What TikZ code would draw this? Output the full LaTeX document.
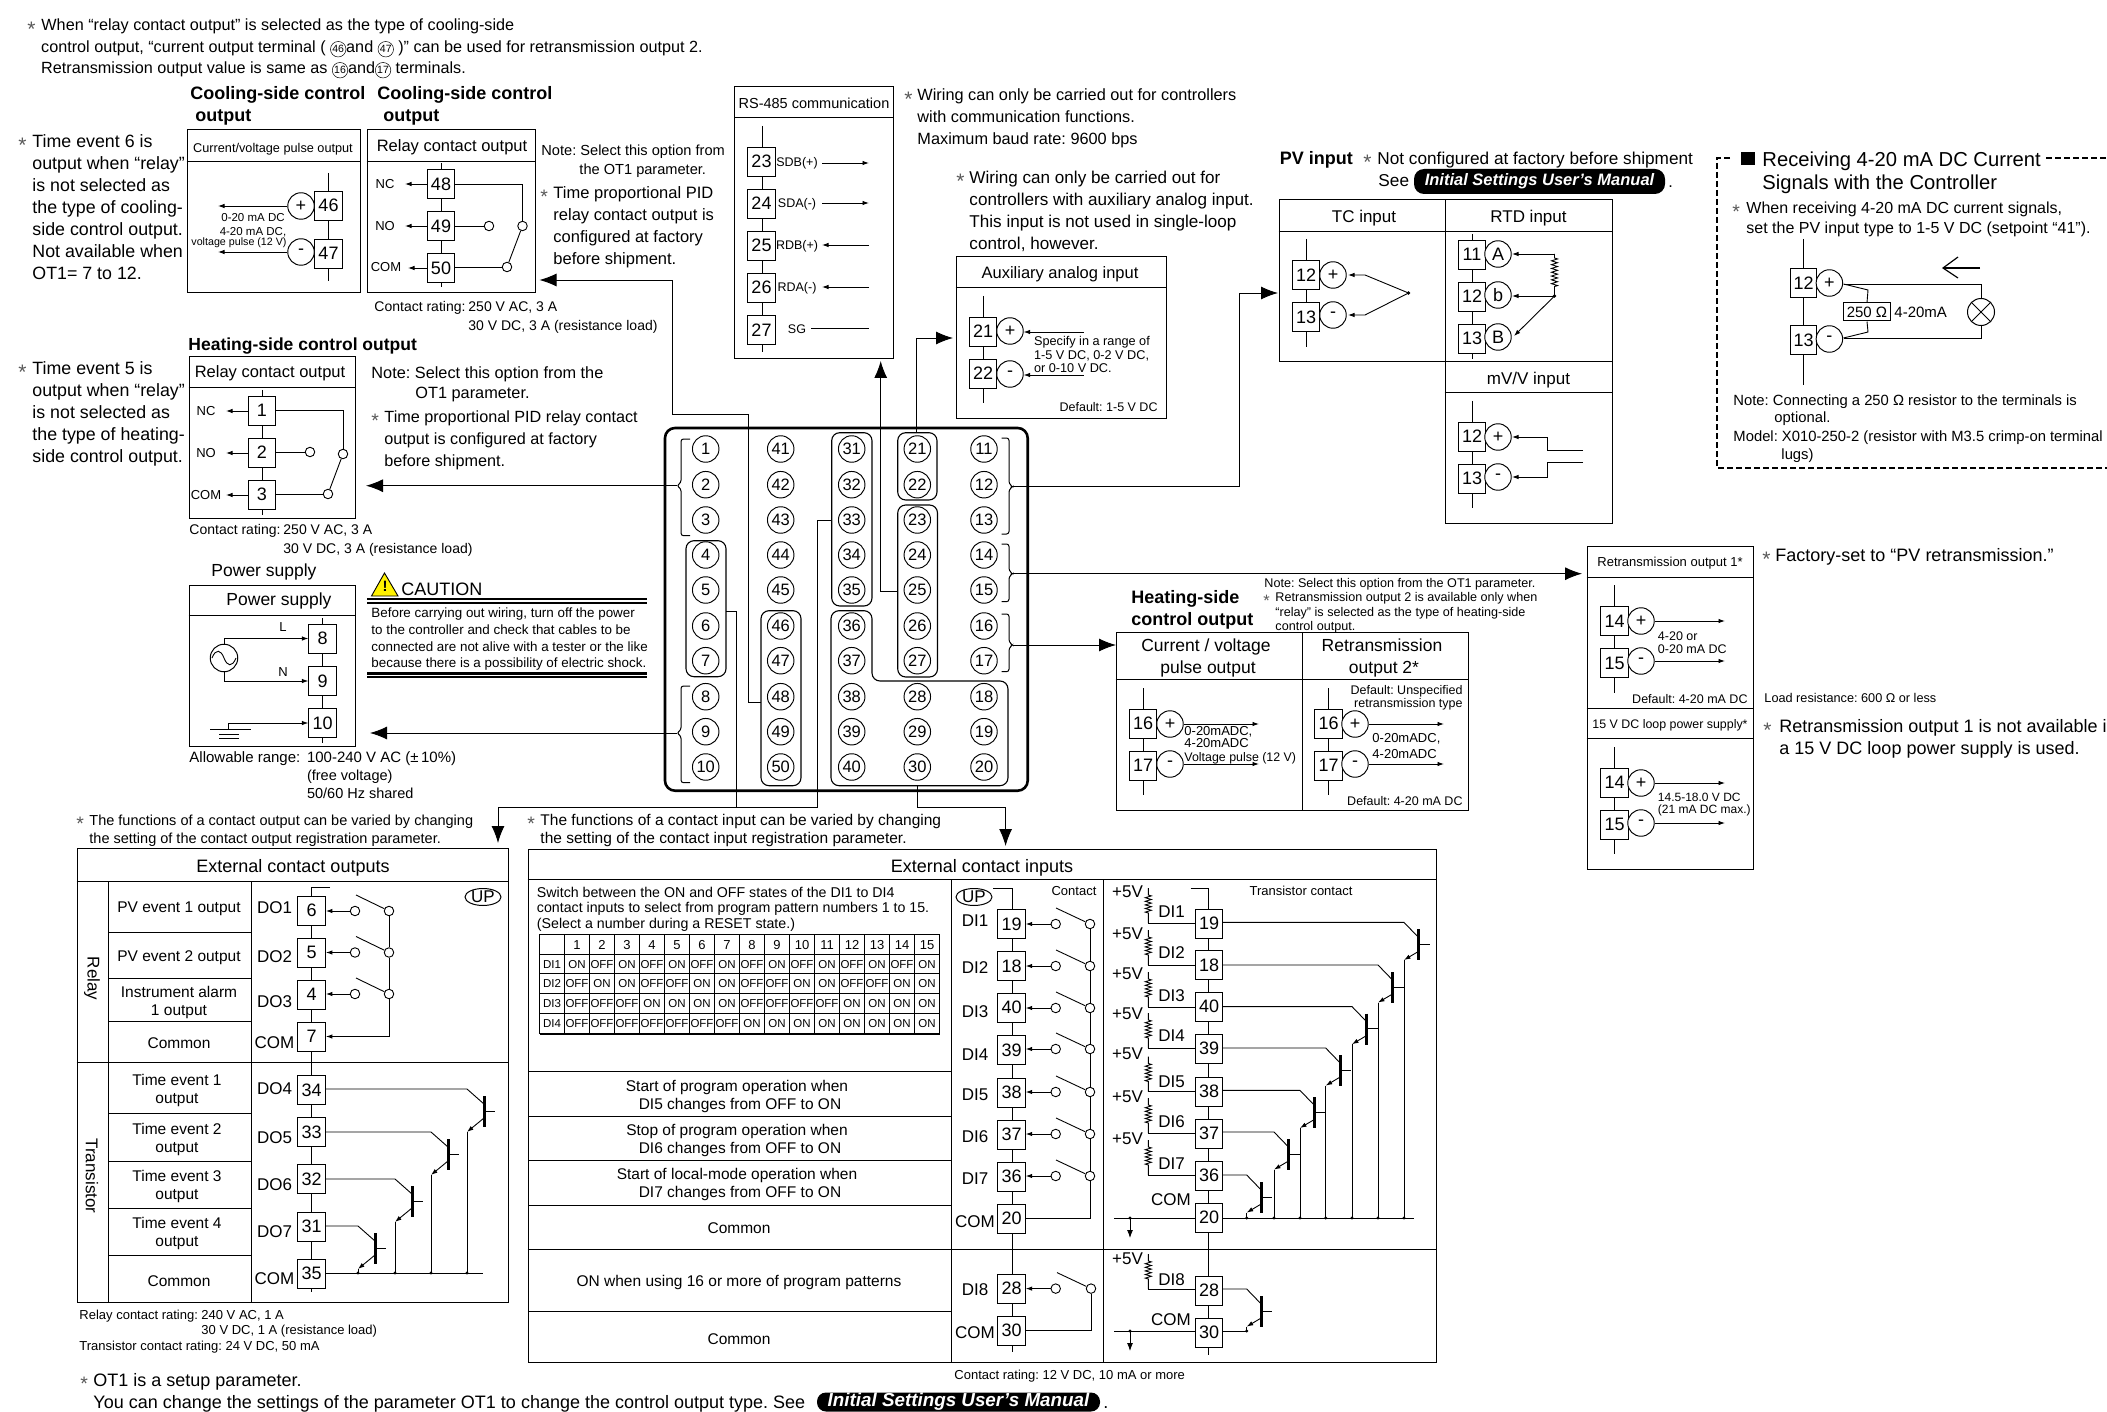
\documentclass[tikz,border=0pt]{standalone}
\usepackage{fontspec}
\setmainfont{Liberation Sans}
\usetikzlibrary{arrows.meta,decorations.pathmorphing,shapes.geometric}
\AtBeginDocument{\frenchspacing}
\newcount\txn
\newcommand\fs[1]{\fontsize{#1}{#1}\selectfont}
\newcommand\TL[4]{\global\advance\txn by 1 \node[anchor=base west,inner sep=0pt,font=\fs{#3}] (x\the\txn) at ({#1},{(#2)+.36*(#3)}) {#4};}
\newcommand\TC[4]{\global\advance\txn by 1 \node[anchor=base,inner sep=0pt,font=\fs{#3}] (x\the\txn) at ({#1},{(#2)+.36*(#3)}) {#4};}
\newcommand\TR[4]{\global\advance\txn by 1 \node[anchor=base east,inner sep=0pt,font=\fs{#3}] (x\the\txn) at ({#1},{(#2)+.36*(#3)}) {#4};}
\newcommand\ST[3]{\global\advance\txn by 1 \pgfmathsetmacro\stz{(#3)*1.5}\node[anchor=base west,inner sep=0pt,text=black!65,font=\fs{\stz}] (x\the\txn) at ({(#1)-1},{(#2)+.55*\stz}) {*};}
\newcommand\BOX[5]{\node[boxn,minimum width={(#4)-(#2)},minimum height={(#5)-(#3)}] (#1) at ({((#2)+(#4))/2},{((#3)+(#5))/2}) {};}
\newcommand\T[4]{\node[term] (#1) at ({#2},{#3}) {#4};}
\newcommand\CI[4]{\node[cir] (#1) at ({#2},{#3}) {#4};}
\newcommand\cn[1]{\tikz[baseline=(cx.base)]\node[circle,draw,line width=.5pt,inner sep=0pt,minimum size=15.5pt,font=\fs{10.5}] (cx) {#1};}
\newcommand\TRN[6]{%
 \coordinate (K) at ({(#2)-(#5)},{#3});
 \coordinate (E) at ({(#2)-(#5)},{(#3)+(#6)});
 \coordinate (C) at ({(#2)-(#5)},{#4});
 \draw (#1.east |- K) -- (K) -- ({#2},{(#3)+15});
 \draw[line width=3pt] ({#2},{(#3)+7}) -- ({#2},{(#3)+38});
 \draw ({#2},{(#3)+22}) -- ++(11,0);
 \draw[sa] ({#2},{(#3)+29}) -- (E);
 \draw (E) -- (C);
 \fill (C) circle (1.6);
}
\newcommand\RES[2]{%
 \draw[decoration={zigzag,amplitude=3pt,segment length=3.6pt}] ({#1},{(#2)-35}) -- ({#1},{(#2)-28}) decorate {-- ({#1},{(#2)-9})} -- ({#1},{#2});
}
\tikzset{
 boxn/.style={draw,line width=1pt,inner sep=0pt},
 term/.style={draw,line width=.95pt,fill=white,inner sep=0pt,minimum width=27.5pt,minimum height=29pt,font=\fs{18}},
 cir/.style={draw,circle,line width=.95pt,fill=white,inner sep=0pt,minimum size=26.5pt,font=\fs{18}},
 bc/.style={draw,circle,line width=.95pt,inner sep=0pt,minimum size=26.5pt,font=\fs{16.5}},
 oc/.style={draw,circle,line width=.9pt,fill=white,inner sep=0pt,minimum size=9.5pt},
 grp/.style={rounded corners=8pt,line width=1.1pt},
 sa/.style={-{Latex[length=6.5pt,width=4.5pt]}},
 ba/.style={-{Latex[length=17pt,width=13pt]}},
 pill/.style={fill=black,text=white,rounded corners=10pt,inner sep=0pt},
 every path/.append style={line width=.9pt}
}
\begin{document}
\begin{tikzpicture}[x=1pt,y=-1pt,line width=.9pt]
\useasboundingbox (0,0) rectangle (2107,1412);
% ---------- top note
\ST{28}{25}{14}
\TL{41}{25}{16.2}{When “relay contact output” is selected as the type of cooling-side}
\TL{41}{47}{16.2}{control output, “current output terminal ( \cn{46}and \cn{47} )” can be used for retransmission output 2.}
\TL{41}{68}{16.2}{Retransmission output value is same as \cn{16}and\cn{17} terminals.}
% ---------- cooling current
\TL{190}{93}{18}{\bfseries Cooling-side control}
\TL{195}{115}{18}{\bfseries output}
\TL{377}{93}{18}{\bfseries Cooling-side control}
\TL{383}{115}{18}{\bfseries output}
\BOX{cc}{187}{130}{360}{293}
\draw (cc.west |- 0,161) -- (cc.east |- 0,161);
\TC{273}{148}{12.7}{Current/voltage pulse output}
\draw (328,173) -- (328,281);
\T{t46}{328.5}{205.5}{46}
\T{t47}{328.5}{253.5}{47}
\CI{c46}{301}{206}{+}
\CI{c47}{301}{252}{-}
\coordinate (e46) at (218,206); \coordinate (e47) at (218,252);
\draw[sa] (c46) -- (e46);
\draw[sa] (c47) -- (e47);
\TC{253}{217}{11.5}{0-20 mA DC}
\TC{253}{231}{11.5}{4-20 mA DC,}
\TC{239}{242}{10.7}{voltage pulse (12 V)}
% cooling relay
\BOX{cr}{367}{130}{535}{293}
\draw (cr.west |- 0,161) -- (cr.east |- 0,161);
\TC{452}{146}{16.5}{Relay contact output}
\draw (441,163) -- (441,287);
\T{t48}{441}{184}{48}
\T{t49}{441}{226}{49}
\T{t50}{441}{268}{50}
\TC{385}{184}{13}{NC} \TC{385}{226}{13}{NO} \TC{386}{267}{13}{COM}
\coordinate (n48) at (405,184); \coordinate (n49) at (405,226); \coordinate (n50) at (408,268);
\draw[sa] (t48) -- (n48); \draw[sa] (t49) -- (n49); \draw[sa] (t50) -- (n50);
\node[oc] (s1) at (522.5,226) {}; \node[oc] (s2) at (489,226) {}; \node[oc] (s3) at (507,267) {};
\draw (t48.east) -| (s1.north);
\draw (t49.east) -- (s2.west);
\draw (t50.east |- s3) -- (s3.west);
\draw (s3) -- (s1);
\TL{541}{150}{14.6}{Note: Select this option from}
\TL{579}{169}{14.6}{the OT1 parameter.}
\ST{541}{193}{13}
\TL{553}{193}{16.5}{Time proportional PID}
\TL{553}{215}{16.5}{relay contact output is}
\TL{553}{237}{16.5}{configured at factory}
\TL{553}{259}{16.5}{before shipment.}
\TL{374}{306}{14}{Contact rating:}
\TL{468}{306}{14}{250 V AC, 3 A}
\TL{468}{325}{14}{30 V DC, 3 A (resistance load)}
% left notes
\ST{19}{141}{14}
\TL{32}{141}{17.8}{Time event 6 is}
\TL{32}{163}{17.8}{output when “relay”}
\TL{32}{185}{17.8}{is not selected as}
\TL{32}{207}{17.8}{the type of cooling-}
\TL{32}{229}{17.8}{side control output.}
\TL{32}{251}{17.8}{Not available when}
\TL{32}{273}{17.8}{OT1= 7 to 12.}
\ST{19}{368}{14}
\TL{32}{368}{17.8}{Time event 5 is}
\TL{32}{390}{17.8}{output when “relay”}
\TL{32}{412}{17.8}{is not selected as}
\TL{32}{434}{17.8}{the type of heating-}
\TL{32}{456}{17.8}{side control output.}
% ---------- heating relay
\TL{188}{344}{17.5}{\bfseries Heating-side control output}
\BOX{hr}{189}{357}{355}{518}
\draw (hr.west |- 0,387) -- (hr.east |- 0,387);
\TC{270}{372}{16.5}{Relay contact output}
\draw (262,390) -- (262,515);
\T{t1}{262}{410.5}{1}
\T{t2}{262}{452.5}{2}
\T{t3}{262}{494.5}{3}
\TC{206}{411}{13}{NC} \TC{206}{453}{13}{NO} \TC{206}{495}{13}{COM}
\coordinate (n1) at (226,411); \coordinate (n2) at (226,453); \coordinate (n3) at (226,495);
\draw[sa] (t1.west |- n1) -- (n1); \draw[sa] (t2.west |- n2) -- (n2); \draw[sa] (t3.west |- n3) -- (n3);
\node[oc] (h1) at (343,454) {}; \node[oc] (h2) at (310,452) {}; \node[oc] (h3) at (328,494) {};
\draw (t1.east) -| (h1.north);
\draw (t2.east |- h2) -- (h2.west);
\draw (t3.east |- h3) -- (h3.west);
\draw (h3) -- (h1);
\TL{371}{373}{16.3}{Note: Select this option from the}
\TL{415}{393}{16.3}{OT1 parameter.}
\ST{372}{417}{13}
\TL{384}{417}{16.2}{Time proportional PID relay contact}
\TL{384}{439}{16.2}{output is configured at factory}
\TL{384}{461}{16.2}{before shipment.}
\TL{189}{529}{14}{Contact rating:}
\TL{283}{529}{14}{250 V AC, 3 A}
\TL{283}{548}{14}{30 V DC, 3 A (resistance load)}
% ---------- power supply
\TC{264}{570}{17.5}{Power supply}
\BOX{ps}{189}{585}{355}{746}
\draw (ps.west |- 0,615) -- (ps.east |- 0,615);
\TC{279}{599}{17.5}{Power supply}
\draw (322.6,618) -- (322.6,743);
\T{t8}{322.6}{638.5}{8}
\T{t9}{322.6}{681}{9}
\T{t10}{322.6}{723}{10}
\node[draw,circle,line width=1pt,inner sep=0pt,minimum size=27.5pt] (ac) at (224,658) {};
\draw (212,658) .. controls (216,648) and (221,650) .. (224,658) .. controls (227,666) and (232,668) .. (236,658);
\draw[sa] (ac.north) |- (t8.west);
\draw[sa] (ac.south) |- (t9.west);
\TC{283}{627}{13}{L} \TC{283}{672}{13}{N}
\coordinate (g0) at (228.5,729);
\draw[sa] (g0) |- (t10.west);
\draw (210,729) -- (251,729);
\draw (219,734) -- (239,734);
\draw (219,738) -- (239,738);
\TL{189}{757}{15}{Allowable range:}
\TL{306.6}{757}{15}{100-240 V AC (±\,10\%)}
\TL{306.6}{775}{14.5}{(free voltage)}
\TL{306.6}{793}{14.5}{50/60 Hz shared}
% caution
\draw[fill=yellow,line width=.9pt] (384.5,573) -- (398,596) -- (371.5,596) -- cycle;
\TC{385}{586}{15}{\bfseries !}
\TL{401}{589}{18}{CAUTION}
\draw[line width=2.2pt] (367,599) -- (647,599);
\draw[line width=1.2pt] (367,603) -- (647,603);
\draw[line width=2.2pt] (367,673.5) -- (647,673.5);
\draw[line width=1.2pt] (367,677) -- (647,677);
\TL{371}{613}{13.4}{Before carrying out wiring, turn off the power}
\TL{371}{630}{13.4}{to the controller and check that cables to be}
\TL{371}{647}{13.4}{connected are not alive with a tester or the like}
\TL{371}{663}{13.4}{because there is a possibility of electric shock.}
% ---------- board
\draw[line width=2.6pt,rounded corners=10pt] (665,428) rectangle (1027.7,790.7);
\foreach \t/\x/\y in {1/705.7/449,2/705.7/484.7,3/705.7/520,4/705.7/555,5/705.7/590,6/705.7/626,7/705.7/660.7,8/705.7/696.7,9/705.7/731.7,10/705.7/767,
41/780.7/449,42/780.7/484.7,43/780.7/520,44/780.7/555,45/780.7/590,46/780.7/626,47/780.7/660.7,48/780.7/696.7,49/780.7/731.7,50/780.7/767,
31/851.7/449,32/851.7/484.7,33/851.7/520,34/851.7/555,35/851.7/590,36/851.7/626,37/851.7/660.7,38/851.7/696.7,39/851.7/731.7,40/851.7/767,
21/917.3/449,22/917.3/484.7,23/917.3/520,24/917.3/555,25/917.3/590,26/917.3/626,27/917.3/660.7,28/917.3/696.7,29/917.3/731.7,30/917.3/767,
11/984/449,12/984/484.7,13/984/520,14/984/555,15/984/590,16/984/626,17/984/660.7,18/984/696.7,19/984/731.7,20/984/767}
 {\node[bc] (b\t) at (\x,\y) {\t};}
\draw[grp] (686,540.7) rectangle (726,676.7);
\draw[grp] (831.7,432.7) rectangle (872,606);
\draw[grp] (897.7,432.7) rectangle (937,500);
\draw[grp] (897.7,505) rectangle (937.5,677);
\draw[grp] (761,610.7) rectangle (801,785.7);
\draw[grp] (831,610.7) -- (872,610.7) -- (872,681) -- (1008,681) -- (1008,785.7) -- (831,785.7) -- cycle;
\coordinate (bl1) at (676.7,485.7); \coordinate (bl2) at (676.7,733);
\coordinate (br1) at (1012.7,486.7); \coordinate (br2) at (1012.7,573.7); \coordinate (br3) at (1012.7,645);
\draw[rounded corners=2.5pt,line width=1pt] (690,439) -- (681,439) -- (681,482.7) -- (bl1) -- (681,488.7) -- (681,535.7) -- (690,535.7);
\draw[rounded corners=2.5pt,line width=1pt] (690,686) -- (681,686) -- (681,730) -- (bl2) -- (681,736) -- (681,782.7) -- (690,782.7);
\draw[rounded corners=2.5pt,line width=1pt] (1001.7,438) -- (1009,438) -- (1009,483.7) -- (br1) -- (1009,489.7) -- (1009,534) -- (1001.7,534);
\draw[rounded corners=2.5pt,line width=1pt] (1001.7,544) -- (1009,544) -- (1009,570.7) -- (br2) -- (1009,576.7) -- (1009,601.7) -- (1001.7,601.7);
\draw[rounded corners=2.5pt,line width=1pt] (1001.7,614) -- (1009,614) -- (1009,642) -- (br3) -- (1009,648) -- (1009,671.7) -- (1001.7,671.7);
% connectors
\coordinate (a1) at (366,485.7); \draw[ba] (bl1) -- (a1);
\coordinate (a2) at (370,733); \draw[ba] (bl2) -- (a2);
\coordinate (a3a) at (761,702.7); \coordinate (a3b) at (748.3,414); \coordinate (a3c) at (672,414); \coordinate (a3d) at (539.5,280);
\draw[ba] (a3a) -| (a3b) -- (a3c) |- (a3d);
\coordinate (a4a) at (897.7,591); \coordinate (a4b) at (880.7,361);
\draw[ba] (a4a) -| (a4b);
\coordinate (a5a) at (916.3,432.7); \coordinate (a5b) at (953,338);
\draw[ba] (a5a) |- (a5b);
\coordinate (a6a) at (1239,293); \coordinate (a6b) at (1278,293);
\draw[ba] (br1) -| (a6a) -- (a6b);
\coordinate (a7) at (1582,573.7); \draw[ba] (br2) -- (a7);
\coordinate (a8) at (1116,645); \draw[ba] (br3) -- (a8);
\coordinate (a9a) at (726,611); \coordinate (a9b) at (736,807); \coordinate (a9c) at (817,807); \coordinate (a9d) at (817,520); \coordinate (a9e) at (831.7,520); \coordinate (a9f) at (498,807); \coordinate (a9g) at (498,843);
\draw (a9a) -| (a9b);
\draw (a9d) -- (a9e);
\draw[ba] (a9d) -- (a9c) -- (a9f) -- (a9g);
\coordinate (a10a) at (917.7,785.7); \coordinate (a10b) at (917.7,807); \coordinate (a10c) at (1005.6,807); \coordinate (a10d) at (1005.6,846);
\draw[ba] (a10a) -- (a10b) -- (a10c) -- (a10d);
% ---------- RS-485
\BOX{rs}{734.6}{87}{893.6}{359}
\draw (rs.west |- 0,117) -- (rs.east |- 0,117);
\TC{814}{103}{14.5}{RS-485 communication}
\draw (762,126) -- (762,352);
\T{t23}{761.5}{161.5}{23} \T{t24}{761.5}{203.5}{24} \T{t25}{761.5}{245.5}{25} \T{t26}{761.5}{287.5}{26} \T{t27}{761.5}{330}{27}
\TC{797}{162}{12.5}{SDB(+)} \TC{797}{203}{12.5}{SDA(-)} \TC{797}{245}{12.5}{RDB(+)} \TC{797}{287}{12.5}{RDA(-)} \TC{797}{329}{12.5}{SG}
\coordinate (p1) at (822,163); \coordinate (q1) at (869,163);
\coordinate (p2) at (822,203); \coordinate (q2) at (869,203);
\coordinate (p3) at (822,245); \coordinate (q3) at (869,245);
\coordinate (p4) at (822,287); \coordinate (q4) at (869,287);
\coordinate (p5) at (811,328); \coordinate (q5) at (869,328);
\draw[sa] (p1) -- (q1); \draw[sa] (p2) -- (q2); \draw[sa] (q3) -- (p3); \draw[sa] (q4) -- (p4); \draw (p5) -- (q5);
\ST{905}{95}{14}
\TL{917}{95}{16.3}{Wiring can only be carried out for controllers}
\TL{917}{117}{16.3}{with communication functions.}
\TL{917}{139}{16.3}{Maximum baud rate: 9600 bps}
\ST{957}{177}{14}
\TL{969}{177}{17.1}{Wiring can only be carried out for}
\TL{969}{199}{17.1}{controllers with auxiliary analog input.}
\TL{969}{221}{17.1}{This input is not used in single-loop}
\TL{969}{243}{17.1}{control, however.}
% aux
\BOX{ax}{956}{257}{1166}{418}
\draw (ax.west |- 0,287) -- (ax.east |- 0,287);
\TC{1060}{273}{16.5}{Auxiliary analog input}
\draw (983,296) -- (983,403);
\T{t21}{983}{331.5}{21} \T{t22}{983}{373.5}{22}
\CI{c21}{1010}{331}{+} \CI{c22}{1010}{374}{-}
\coordinate (f21) at (1083.6,332); \coordinate (f22) at (1083.6,375);
\coordinate (g21) at (1023.6,332); \coordinate (g22) at (1023.6,375);
\draw[sa] (f21) -- (g21); \draw[sa] (f22) -- (g22);
\TL{1033.6}{341}{12.7}{Specify in a range of}
\TL{1033.6}{355}{12.7}{1-5 V DC, 0-2 V DC,}
\TL{1033.6}{368}{12.7}{or 0-10 V DC.}
\TR{1158}{407}{12.5}{Default: 1-5 V DC}
% ---------- PV input
\TL{1279.5}{158}{18}{\bfseries PV input}
\ST{1364}{158}{14}
\TL{1377}{158}{17.2}{Not configured at factory before shipment}
\TL{1378}{180}{17.2}{See}
\node[pill,minimum width=251pt,minimum height=25pt,font=\fs{16.5}\bfseries\itshape] (pl1) at (1539.5,181.5) {Initial Settings User’s Manual};
\TL{1668}{182}{16.3}{.}
\BOX{pv}{1279}{200}{1612}{362}
\draw (pv.west |- 0,231) -- (pv.east |- 0,231);
\draw (1445,200) -- (1445,362);
\BOX{mv}{1445}{362}{1612}{523}
\draw (mv.west |- 0,392) -- (mv.east |- 0,392);
\TC{1364}{216}{17}{TC input} \TC{1528.5}{216}{17}{RTD input} \TC{1528.5}{378}{17}{mV/V input}
\draw (1306,239) -- (1306,347);
\T{a12}{1306}{275}{12} \T{a13}{1306}{317}{13}
\CI{ca12}{1333}{275}{+} \CI{ca13}{1333}{315}{-}
\coordinate (tc) at (1408.5,293); \coordinate (tc1) at (1365,275); \coordinate (tc2) at (1365,315);
\coordinate (tc1e) at (1348,275); \coordinate (tc2e) at (1348,315);
\draw[sa] (tc) -- (tc1) -- (tc1e);
\draw[sa] (tc) -- (tc2) -- (tc2e);
\fill (tc) circle (1.8);
\draw (1472,234) -- (1472,359);
\T{r11}{1472}{254.5}{11} \T{r12}{1472}{296.5}{12} \T{r13}{1472}{338.5}{13}
\CI{ra}{1498}{254}{A} \CI{rb}{1498}{295}{b} \CI{rc}{1498}{337}{B}
\coordinate (ra1) at (1554.5,254); \coordinate (ra2) at (1512,254);
\coordinate (rb1) at (1554.5,296); \coordinate (rb2) at (1512,296);
\coordinate (rc2) at (1514,336);
\draw[sa] (ra1) -- (ra2); \draw[sa] (rb1) -- (rb2); \draw[sa] (rb1) -- (rc2);
\draw[decoration={zigzag,amplitude=3pt,segment length=3.8pt}] (ra1) -- (1554.5,258) decorate {-- (1554.5,287)} -- (rb1);
\fill (rb1) circle (1.8);
\draw (1472,401) -- (1472,508);
\T{m12}{1472}{436.5}{12} \T{m13}{1472}{478.5}{13}
\CI{cm12}{1498}{437}{+} \CI{cm13}{1498}{477}{-}
\coordinate (m1) at (1583,450); \coordinate (m2) at (1583,462); \coordinate (m1e) at (1512,437); \coordinate (m2e) at (1512,477);
\draw[sa] (m1) -- (1547.4,450) -- (1547.4,437) -- (m1e);
\draw[sa] (m2) -- (1547.4,462) -- (1547.4,477) -- (m2e);
% ---------- dashed box
\draw[line width=2.4pt,dash pattern=on 6pt off 3pt] (1730,158) -- (1717,158) -- (1717,468) -- (2107,468);
\draw[line width=2.4pt,dash pattern=on 6pt off 3pt] (2046,158) -- (2107,158);
\fill (1741,152) rectangle (1755,165);
\TL{1762}{159}{20.2}{Receiving 4-20 mA DC Current}
\TL{1762}{182}{20.2}{Signals with the Controller}
\ST{1733}{208}{13}
\TL{1746}{208}{16}{When receiving 4-20 mA DC current signals,}
\TL{1746}{228}{16}{set the PV input type to 1-5 V DC (setpoint “41”).}
\draw (1803,239) -- (1803,385);
\node[term,minimum width=26pt] (d12) at (1803.5,283) {12};
\node[term,minimum width=26pt] (d13) at (1803.5,340) {13};
\CI{cd12}{1829.4}{283}{+} \CI{cd13}{1829.4}{339}{-}
\node[draw,circle,line width=1pt,inner sep=0pt,minimum size=27pt] (lamp) at (1981,312) {};
\draw (lamp.north east) -- (lamp.south west);
\draw (lamp.north west) -- (lamp.south east);
\coordinate (d1) at (1843.5,284); \coordinate (d2) at (1843.5,338); \coordinate (d3) at (1981,284); \coordinate (d4) at (1981,338);
\draw (d1) -- (d3) -- (lamp.north);
\draw (lamp.south) -- (d4) -- (d2);
\node[draw,line width=1pt,inner sep=0pt,minimum width=47.5pt,minimum height=18pt,font=\fs{15}] (r250) at (1867,312) {250 Ω};
\coordinate (r1) at (1868,290); \coordinate (r2) at (1868,332);
\draw (d1) -- (r1) -- (r250.north);
\draw (r250.south) -- (r2) -- (d2);
\TL{1894}{312}{15}{4-20mA}
\coordinate (ar1) at (1980,268); \coordinate (ar2) at (1943,268);
\draw[line width=1.2pt] (ar1) -- (ar2);
\draw[line width=1.2pt] (1958,257) -- (ar2) -- (1958,278);
\TL{1733}{400}{14.8}{Note: Connecting a 250 Ω resistor to the terminals is}
\TL{1774}{417}{14.8}{optional.}
\TL{1733}{436}{14.8}{Model: X010-250-2 (resistor with M3.5 crimp-on terminal}
\TL{1781}{454}{14.8}{lugs)}
% ---------- heating table
\TL{1131}{597}{18}{\bfseries Heating-side}
\TL{1131}{619}{18}{\bfseries control output}
\TL{1264}{583}{12.6}{Note: Select this option from the OT1 parameter.}
\ST{1264}{597}{11}
\TL{1275}{597}{12.6}{Retransmission output 2 is available only when}
\TL{1275}{612}{12.6}{“relay” is selected as the type of heating-side}
\TL{1275}{626}{12.6}{control output.}
\BOX{ht}{1116}{632}{1468}{810}
\draw (ht.west |- 0,679) -- (ht.east |- 0,679);
\draw (1302,632) -- (1302,810);
\TC{1206}{645}{17.5}{Current / voltage} \TC{1208}{667}{17.5}{pulse output}
\TC{1382}{645}{17.5}{Retransmission} \TC{1384}{667}{17.5}{output 2*}
\draw (1143,688) -- (1143,795);
\T{h16}{1143}{723.5}{16} \T{h17}{1143}{765.5}{17}
\CI{ch16}{1170}{724}{+} \CI{ch17}{1170}{764}{-}
\coordinate (he1) at (1259,724); \coordinate (he2) at (1259,764);
\draw[sa] (ch16) -- (he1); \draw[sa] (ch17) -- (he2);
\TL{1184}{731}{13}{0-20mADC,}
\TL{1184}{743}{13}{4-20mADC}
\TL{1184}{757}{12.4}{Voltage pulse (12 V)}
\draw (1328.5,688) -- (1328.5,795);
\T{h26}{1328.5}{723.5}{16} \T{h27}{1328.5}{765.5}{17}
\CI{ch26}{1355}{724}{+} \CI{ch27}{1355}{764}{-}
\coordinate (he3) at (1444,724); \coordinate (he4) at (1444,764);
\draw[sa] (ch26) -- (he3); \draw[sa] (ch27) -- (he4);
\TR{1463}{690}{12.5}{Default: Unspecified}
\TR{1463}{703}{12.5}{retransmission type}
\TL{1372}{738}{13}{0-20mADC,}
\TL{1372}{754}{13}{4-20mADC}
\TR{1463}{801}{12.5}{Default: 4-20 mA DC}
% ---------- retransmission 1
\BOX{ro}{1587}{546}{1753}{869}
\draw (ro.west |- 0,577) -- (ro.east |- 0,577);
\draw (ro.west |- 0,708) -- (ro.east |- 0,708);
\draw (ro.west |- 0,738) -- (ro.east |- 0,738);
\TC{1670}{562}{13}{Retransmission output 1*}
\draw (1614.5,585) -- (1614.5,693);
\T{q14}{1614.5}{621}{14} \T{q15}{1614.5}{663}{15}
\CI{cq14}{1641}{621}{+} \CI{cq15}{1641}{661}{-}
\coordinate (qe1) at (1725,621); \coordinate (qe2) at (1725,661);
\draw[sa] (cq14) -- (qe1); \draw[sa] (cq15) -- (qe2);
\TL{1657.5}{636}{12.5}{4-20 or}
\TL{1657.5}{649}{12.5}{0-20 mA DC}
\TR{1748}{699}{12.5}{Default: 4-20 mA DC}
\TC{1670}{724}{12.4}{15 V DC loop power supply*}
\draw (1614.5,747) -- (1614.5,854);
\T{u14}{1614.5}{782.5}{14} \T{u15}{1614.5}{824.5}{15}
\CI{cu14}{1641}{783}{+} \CI{cu15}{1641}{823}{-}
\coordinate (ue1) at (1725,783); \coordinate (ue2) at (1725,823);
\draw[sa] (cu14) -- (ue1); \draw[sa] (cu15) -- (ue2);
\TL{1657.5}{797}{12}{14.5-18.0 V DC}
\TL{1657.5}{809}{12}{(21 mA DC max.)}
\ST{1763}{555}{14}
\TL{1775}{555}{18}{Factory-set to “PV retransmission.”}
\TL{1764}{698}{12.7}{Load resistance: 600 Ω or less}
\ST{1764}{726}{14}
\TL{1779}{726}{18}{Retransmission output 1 is not available i}
\TL{1779}{748}{18}{a 15 V DC loop power supply is used.}
% ---------- external contact outputs
\ST{77}{820}{13}
\TL{89}{820}{14.5}{The functions of a contact output can be varied by changing}
\TL{89}{838}{14.5}{the setting of the contact output registration parameter.}
\BOX{eo}{77}{848.6}{508}{1302.5}
\draw (eo.west |- 0,881) -- (eo.east |- 0,881);
\draw (eo.west |- 0,1062.5) -- (eo.east |- 0,1062.5);
\draw (108,881) -- (108,1302.5);
\draw (251,881) -- (251,1302.5);
\foreach \y in {932.5,978.6,1021.4,1113.6,1161,1208,1255} {\draw (108,\y) -- (251,\y);}
\TC{293}{866}{18}{External contact outputs}
\node[rotate=-90,inner sep=0pt,font=\fs{17}] (rl1) at (92,978.6) {Relay};
\node[rotate=-90,inner sep=0pt,font=\fs{17}] (rl2) at (92,1176) {Transistor};
\TC{179}{907}{15.5}{PV event 1 output}
\TC{179}{956}{15.5}{PV event 2 output}
\TC{179}{992}{15.5}{Instrument alarm}
\TC{179}{1010}{15.5}{1 output}
\TC{179}{1043}{15.5}{Common}
\TC{177}{1080}{15.5}{Time event 1} \TC{177}{1098}{15.5}{output}
\TC{177}{1128.6}{15.5}{Time event 2} \TC{177}{1147}{15.5}{output}
\TC{177}{1176}{15.5}{Time event 3} \TC{177}{1194}{15.5}{output}
\TC{177}{1223}{15.5}{Time event 4} \TC{177}{1241}{15.5}{output}
\TC{179}{1281}{15.5}{Common}
\foreach \t/\y in {DO1/907,DO2/956,DO3/1001,COM/1042,DO4/1088.6,DO5/1137.5,DO6/1184.6,DO7/1231,COM/1278.6} {\TC{274.5}{\y}{17}{\t}}
\coordinate (st0) at (330,887.5); \coordinate (st1) at (311.7,887.5); \coordinate (st2) at (311.7,1292);
\draw (st0) -- (st1) -- (st2);
\foreach \n/\l/\y in {o6/6/910.5,o5/5/952.5,o4/4/994.5,o7/7/1036.5,o34/34/1090,o33/33/1132,o32/32/1179,o31/31/1226.5,o35/35/1273.5}
 {\node[term] (\n) at (311.7,\y) {\l};}
\foreach \n/\y in {o6/911,o5/952.5,o4/994}{
 \node[oc] (l\n) at (355,\y) {};
 \node[oc] (r\n) at (389,\y) {};
 \draw[sa] (l\n) -- (\n.east |- l\n);
 \draw (356,{\y-16}) -- (r\n);
}
\draw (ro6) -- (ro5); \draw (ro5) -- (ro4);
\draw[sa] (ro4) |- (o7.east);
\node[draw,ellipse,line width=1pt,inner sep=0pt,minimum width=36pt,minimum height=17pt,font=\fs{17}] (up1) at (483,897) {UP};
\coordinate (oc) at (483,1273);
\draw (o35.east |- oc) -- (oc);
\TRN{o34}{484}{1089}{1273}{17}{43}
\TRN{o33}{448}{1132}{1273}{17}{43}
\TRN{o32}{412}{1179}{1273}{17}{43}
\TRN{o31}{375}{1226}{1273}{17}{43}
\TL{79}{1315}{13}{Relay contact rating:}
\TL{201}{1315}{13}{240 V AC, 1 A}
\TL{201}{1330}{13}{30 V DC, 1 A (resistance load)}
\TL{79}{1346}{13}{Transistor contact rating: 24 V DC, 50 mA}
% ---------- external contact inputs
\ST{528}{820}{13}
\TL{540}{820}{15.5}{The functions of a contact input can be varied by changing}
\TL{540}{838}{15.5}{the setting of the contact input registration parameter.}
\BOX{ei}{528}{849}{1436}{1362.5}
\draw (ei.west |- 0,879) -- (ei.east |- 0,879);
\draw (ei.west |- 0,1249) -- (ei.east |- 0,1249);
\draw (951,879) -- (951,1362.5);
\draw (1103,879) -- (1103,1362.5);
\foreach \y in {1071.8,1116,1160,1205,1311.5} {\draw (528,\y) -- (951,\y);}
\TC{982}{866}{18}{External contact inputs}
\TL{536.5}{892}{14.2}{Switch between the ON and OFF states of the DI1 to DI4}
\TL{536.5}{907.5}{14.2}{contact inputs to select from program pattern numbers 1 to 15.}
\TL{536.5}{923}{14.2}{(Select a number during a RESET state.)}
% pattern table
\foreach \y in {934,954,973.6,993,1013} {\draw (539.5,\y) -- (939.5,\y);}
\draw[line width=1.6pt] (539.5,1034) -- (939.5,1034);
\foreach \i in {0,...,16} {\draw ({539.5+25*\i},934) -- ({539.5+25*\i},1034);}
\foreach \v [count=\i] in {1,2,...,15} {\TC{539.5+25*\i+12.5}{945}{13}{\v}}
\foreach \r/\y/\vals in {DI1/964/{ON,OFF,ON,OFF,ON,OFF,ON,OFF,ON,OFF,ON,OFF,ON,OFF,ON},
 DI2/983.5/{OFF,ON,ON,OFF,OFF,ON,ON,OFF,OFF,ON,ON,OFF,OFF,ON,ON},
 DI3/1003.5/{OFF,OFF,OFF,ON,ON,ON,ON,OFF,OFF,OFF,OFF,ON,ON,ON,ON},
 DI4/1023.5/{OFF,OFF,OFF,OFF,OFF,OFF,OFF,ON,ON,ON,ON,ON,ON,ON,ON}}
 {\TC{552}{\y}{11.5}{\r}
  \foreach \v [count=\i] in \vals {\TC{539.5+25*\i+12.5}{\y}{11.5}{\v}}}
\TC{737}{1086}{15.5}{Start of program operation when}
\TC{740}{1104}{15.5}{DI5 changes from OFF to ON}
\TC{737}{1130}{15.5}{Stop of program operation when}
\TC{740}{1148}{15.5}{DI6 changes from OFF to ON}
\TC{737}{1174}{15.5}{Start of local-mode operation when}
\TC{740}{1192}{15.5}{DI7 changes from OFF to ON}
\TC{739}{1228}{15.5}{Common}
\TC{739}{1281}{15.5}{ON when using 16 or more of program patterns}
\TC{739}{1339}{15.5}{Common}
% contact column
\node[draw,ellipse,line width=1pt,inner sep=0pt,minimum width=36pt,minimum height=17pt,font=\fs{17}] (up2) at (974,897) {UP};
\coordinate (cs0) at (993,888); \coordinate (cs1) at (1012,888); \coordinate (cs2) at (1012,1352);
\draw (cs0) -- (cs1) -- (cs2);
\TC{1074}{891}{13}{Contact}
\foreach \t/\y in {DI1/920.7,DI2/967,DI3/1011,DI4/1054,DI5/1094.6,DI6/1136.7,DI7/1178.5,COM/1221,DI8/1289.6,COM/1332} {\TC{975}{\y}{17}{\t}}
\foreach \l/\y in {19/924,18/966,40/1007.5,39/1050,38/1092.5,37/1134.5,36/1176.5,20/1218.5,28/1288.5,30/1330.5}
 {\node[term] (k\l) at (1011.5,\y) {\l};}
\foreach \l/\y in {19/924,18/966,40/1008,39/1049,38/1092,37/1134,36/1176}{
 \node[oc] (lk\l) at (1055.7,\y) {};
 \node[oc] (rk\l) at (1090,\y) {};
 \draw[sa] (lk\l) -- (k\l.east |- lk\l);
 \draw (1056,{\y-16}) -- (rk\l);
}
\foreach \a/\b in {19/18,18/40,40/39,39/38,38/37,37/36} {\draw (rk\a) -- (rk\b);}
\draw (rk36) |- (k20.east);
\node[oc] (lk28) at (1055.7,1288.6) {};
\node[oc] (rk28) at (1091,1288.6) {};
\draw[sa] (lk28) -- (k28.east |- lk28);
\draw (1057,1272.6) -- (rk28);
\draw (rk28) |- (k30.east);
\TL{954}{1375}{13}{Contact rating: 12 V DC, 10 mA or more}
% transistor column
\TC{1301}{891}{13}{Transistor contact}
\coordinate (ts0) at (1190.7,888); \coordinate (ts1) at (1208.7,888); \coordinate (ts2) at (1208.7,1355);
\draw (ts0) -- (ts1) -- (ts2);
\foreach \l/\y in {19/923.5,18/965,40/1006.5,39/1048.5,38/1091.5,37/1133.5,36/1175.5,20/1217.5,28/1290.5,30/1332.5}
 {\node[term,minimum width=27pt] (j\l) at (1209,\y) {\l};}
\foreach \y in {891.6,933.6,973,1013.6,1053,1096,1138,1258} {\TL{1111.7}{\y}{17}{+5V}}
\foreach \w/\l in {923/19,965/18,1007/40,1048/39,1091.5/38,1133/37,1175/36,1289/28} {
 \RES{1148.3}{\w}
 \draw (1148.3,\w) -- (j\l.west |- 0,\w);
}
\foreach \t/\y in {DI1/911,DI2/952,DI3/995,DI4/1035,DI5/1081,DI6/1121,DI7/1163,DI8/1279} {\TL{1158}{\y}{17}{\t}}
\TC{1171}{1199}{17}{COM} \TC{1171}{1319}{17}{COM}
\coordinate (cl1) at (1114,1218); \coordinate (cl2) at (1413.7,1218);
\coordinate (cl3) at (1114,1331);
\draw (cl1) -- (j20.west |- cl1);
\draw (j20.east |- cl2) -- (cl2);
\draw (cl3) -- (j30.west |- cl3);
\coordinate (gd1) at (1130,1218); \coordinate (gd2) at (1130,1238);
\coordinate (gd3) at (1130,1331); \coordinate (gd4) at (1130,1351);
\draw[-{Latex[length=8pt,width=6pt]}] (gd1) -- (gd2);
\draw[-{Latex[length=8pt,width=6pt]}] (gd3) -- (gd4);
\fill (gd1) circle (1.6); \fill (gd3) circle (1.6);
\TRN{j19}{1418.5}{922.4}{1218}{14.5}{37.6}
\TRN{j18}{1392.5}{965}{1218}{14.5}{37.6}
\TRN{j40}{1366.5}{1006.6}{1218}{14.5}{37.6}
\TRN{j39}{1340.2}{1048}{1218}{14.5}{37.6}
\TRN{j38}{1314.5}{1090.4}{1218}{14.5}{37.6}
\TRN{j37}{1288.5}{1132}{1218}{14.5}{37.6}
\TRN{j36}{1261.2}{1175}{1218}{14.5}{37.6}
\TRN{j28}{1261.2}{1289}{1331}{14.5}{37.6}
\draw (j30.east |- 0,1331) -- (1246.7,1331);
% ---------- bottom note
\ST{81}{1380}{13}
\TL{93}{1380}{18}{OT1 is a setup parameter.}
\TL{93}{1402}{18}{You can change the settings of the parameter OT1 to change the control output type. See}
\node[pill,minimum width=283pt,minimum height=19pt,rounded corners=9pt,font=\fs{18.8}\bfseries\itshape] (pl2) at (958.5,1402) {Initial Settings User’s Manual};
\TL{1103}{1402}{18}{.}
\end{tikzpicture}
\end{document}
